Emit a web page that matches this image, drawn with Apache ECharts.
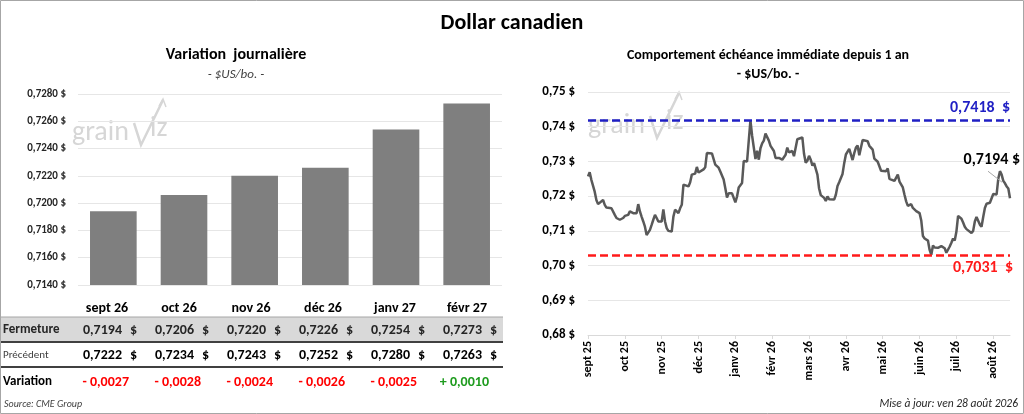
<!DOCTYPE html>
<html lang="fr">
<head>
  <meta charset="UTF-8">
  <title>Dollar canadien</title>
  <script src="https://cdn.jsdelivr.net/npm/echarts@6.0.0/dist/echarts.min.js"></script>
  <style>
    body { margin: 0; padding: 0; background: #fff; }
    #chart { width: 1024px; height: 414px; }
  </style>
</head>
<body>
  <div id="chart"></div>

  <script>
    // Contrats (graphique de gauche + tableau)
    var contracts = ['sept 26', 'oct 26', 'nov 26', 'déc 26', 'janv 27', 'févr 27'];
    var closeVals = [0.7194, 0.7206, 0.7220, 0.7226, 0.7254, 0.7273];
    var prevVals = [0.7222, 0.7234, 0.7243, 0.7252, 0.7280, 0.7263];
    var changeVals = [-0.0027, -0.0028, -0.0024, -0.0026, -0.0025, 0.0010];

    // Échéance immédiate depuis 1 an (jour de bourse, fermeture)
    var days = [0, 1, 2, 4, 5, 6, 7, 9, 10, 11, 12, 14, 15, 16, 17, 18, 19, 20, 21, 22,
      23, 24, 25, 26, 27, 29, 30, 31, 32, 33, 34, 35, 36, 37, 38, 39, 40, 41, 42, 43,
      44, 45, 46, 47, 48, 49, 50, 51, 52, 53, 54, 55, 56, 57, 58, 60, 61, 62, 63, 64,
      65, 66, 67, 69, 70, 71, 72, 74, 75, 76, 78, 79, 81, 82, 83, 84, 86, 87, 88, 89,
      90, 92, 93, 94, 95, 96, 97, 98, 99, 100, 101, 102, 103, 104, 105, 106, 107, 108, 109, 110,
      111, 112, 114, 115, 116, 118, 119, 120, 122, 123, 124, 125, 126, 128, 129, 130, 131, 132, 133, 134,
      135, 136, 137, 138, 139, 141, 142, 143, 144, 145, 147, 148, 149, 150, 151, 152, 153, 154, 156, 157,
      158, 159, 160, 161, 162, 163, 164, 165, 167, 168, 170, 171, 172, 173, 174, 175, 176, 178, 179, 180,
      181, 183, 184, 185, 186, 187, 188, 189, 190, 191, 192, 193, 194, 196, 197, 198, 199, 200, 201, 203,
      204, 205, 206, 207, 209, 210, 211, 213, 214, 215, 216, 217, 218, 219, 220, 221, 222, 223, 224, 225,
      226, 227, 229, 230, 231, 232, 233, 234, 235, 236, 237, 238, 239, 240, 241, 242, 243, 244, 245, 246,
      247, 248, 249, 250, 251, 252];
    var closes = [0.7257, 0.7269, 0.7247, 0.7213, 0.7189, 0.7177, 0.7180, 0.7189, 0.7175, 0.7167, 0.7170, 0.7165, 0.7170, 0.7146, 0.7137, 0.7137, 0.7132, 0.7127, 0.7137, 0.7143,
      0.7138, 0.7146, 0.7156, 0.7151, 0.7151, 0.7151, 0.7177, 0.7156, 0.7141, 0.7127, 0.7112, 0.7088, 0.7083, 0.7103, 0.7117, 0.7132, 0.7146, 0.7137, 0.7127, 0.7132,
      0.7127, 0.7162, 0.7127, 0.7108, 0.7100, 0.7096, 0.7098, 0.7141, 0.7161, 0.7156, 0.7151, 0.7165, 0.7175, 0.7233, 0.7228, 0.7228, 0.7240, 0.7262, 0.7262, 0.7265,
      0.7284, 0.7268, 0.7271, 0.7277, 0.7283, 0.7324, 0.7324, 0.7323, 0.7320, 0.7291, 0.7282, 0.7271, 0.7248, 0.7223, 0.7196, 0.7208, 0.7208, 0.7204, 0.7182, 0.7199,
      0.7225, 0.7238, 0.7301, 0.7302, 0.7300, 0.7360, 0.7418, 0.7374, 0.7340, 0.7307, 0.7331, 0.7305, 0.7338, 0.7352, 0.7360, 0.7380, 0.7384, 0.7360, 0.7345, 0.7343,
      0.7330, 0.7310, 0.7310, 0.7311, 0.7305, 0.7319, 0.7340, 0.7326, 0.7330, 0.7315, 0.7310, 0.7364, 0.7366, 0.7369, 0.7322, 0.7296, 0.7302, 0.7316, 0.7305, 0.7288,
      0.7295, 0.7297, 0.7262, 0.7222, 0.7203, 0.7195, 0.7186, 0.7199, 0.7191, 0.7190, 0.7190, 0.7204, 0.7229, 0.7240, 0.7244, 0.7264, 0.7295, 0.7320, 0.7336, 0.7340,
      0.7304, 0.7324, 0.7340, 0.7346, 0.7318, 0.7314, 0.7362, 0.7363, 0.7358, 0.7345, 0.7334, 0.7308, 0.7310, 0.7299, 0.7286, 0.7273, 0.7275, 0.7272, 0.7280, 0.7250,
      0.7247, 0.7244, 0.7245, 0.7262, 0.7242, 0.7240, 0.7225, 0.7204, 0.7185, 0.7172, 0.7175, 0.7177, 0.7166, 0.7157, 0.7152, 0.7151, 0.7130, 0.7085, 0.7078, 0.7072,
      0.7045, 0.7031, 0.7058, 0.7052, 0.7051, 0.7047, 0.7056, 0.7050, 0.7037, 0.7033, 0.7055, 0.7066, 0.7078, 0.7072, 0.7098, 0.7143, 0.7146, 0.7135, 0.7124, 0.7112,
      0.7105, 0.7104, 0.7094, 0.7100, 0.7127, 0.7140, 0.7135, 0.7118, 0.7112, 0.7140, 0.7166, 0.7178, 0.7182, 0.7181, 0.7178, 0.7206, 0.7208, 0.7205, 0.7250, 0.7272,
      0.7262, 0.7244, 0.7237, 0.7228, 0.7222, 0.7194];

    // Étiquettes de l'axe des dates (une tous les 22 jours de bourse)
    var monthDays = [0, 22, 44, 66, 88, 110, 132, 154, 176, 198, 220, 242];
    var monthLabels = ['sept 25', 'oct 25', 'nov 25', 'déc 25', 'janv 26', 'févr 26',
      'mars 26', 'avr 26', 'mai 26', 'juin 26', 'juil 26', 'août 26'];

    var yearHigh = 0.7418;
    var yearLow = 0.7031;

    var FONT = 'Carlito, Lato, "Open Sans", sans-serif';

    function fr(v, d) {
      return v.toFixed(d).replace('.', ',');
    }

    function txt(x, y, text, size, opts) {
      opts = opts || {};
      return {
        type: 'text', x: x, y: y, z: opts.z || 10,
        style: {
          text: text,
          fill: opts.color || '#000',
          font: (opts.style || 'normal') + ' ' + (opts.weight || 'bold') + ' ' + size + 'px ' + FONT,
          textAlign: opts.align || 'left', align: opts.align || 'left',
          textVerticalAlign: 'middle', verticalAlign: 'middle'
        }
      };
    }

    function hline(x1, x2, y, color, w) {
      return { type: 'line', z: 5, shape: { x1: x1, y1: y, x2: x2, y2: y }, style: { stroke: color, lineWidth: w } };
    }

    // logo grainviz en filigrane
    function watermark(x, y) {
      return {
        type: 'group', x: x, y: y, z: 0,
        children: [
          { type: 'text', x: 0, y: 0, style: { text: 'grain', fill: '#d6d6d6', font: 'normal 28px ' + FONT, textVerticalAlign: 'middle', verticalAlign: 'middle' } },
          { type: 'polyline', shape: { points: [[62, -10], [69, 12], [91, -33]] }, style: { stroke: '#d6d6d6', lineWidth: 2.5, fill: null } },
          { type: 'polyline', shape: { points: [[87, -27], [91, -34], [94, -26]] }, style: { stroke: '#d6d6d6', lineWidth: 1.5, fill: null } },
          { type: 'text', x: 78, y: -4, style: { text: 'iz', fill: '#d6d6d6', font: 'normal 28px ' + FONT, textVerticalAlign: 'middle', verticalAlign: 'middle' } }
        ]
      };
    }

    var chart = echarts.init(document.getElementById('chart'));

    // tableau sous le graphique à barres
    var colX0 = 107, colStep = 72;
    var graphics = [
      { type: 'rect', z: 1, shape: { x: 0.5, y: 0.5, width: 1023, height: 413 }, style: { fill: null, stroke: '#a6a6a6', lineWidth: 1 } },
      txt(512, 23, 'Dollar canadien', 22, { align: 'center' }),
      txt(236, 55, 'Variation  journalière', 16, { align: 'center' }),
      txt(236, 75, '- $US/bo. -', 13, { style: 'italic', weight: 'normal', color: '#404040', align: 'center' }),
      txt(768, 55, 'Comportement échéance immédiate depuis 1 an', 14, { align: 'center' }),
      txt(768, 74, '- $US/bo. -', 14, { align: 'center' }),
      { type: 'rect', z: 1, shape: { x: 1, y: 317, width: 502, height: 24 }, style: { fill: '#d9d9d9' } },
      hline(1, 503, 317, '#a6a6a6', 1),
      hline(1, 503, 342, '#404040', 2),
      hline(1, 503, 367, '#404040', 2),
      txt(3, 330, 'Fermeture', 13, { color: '#262626' }),
      txt(3, 355, 'Précédent', 11, { weight: 'normal', color: '#404040' }),
      txt(3, 382, 'Variation', 13),
      txt(4, 404, 'Source: CME Group', 10, { style: 'italic', weight: 'normal', color: '#404040' }),
      txt(1018, 404, 'Mise à jour: ven 28 août 2026', 11.5, { style: 'italic', weight: 'normal', color: '#262626', align: 'right' }),
      watermark(72, 133),
      watermark(588, 126)
    ];
    contracts.forEach(function (c, i) {
      var cx = colX0 + colStep * i;
      graphics.push(txt(cx, 308, c, 14, { align: 'center' }));
      graphics.push(txt(cx + 15, 330, fr(closeVals[i], 4), 14, { align: 'right', color: '#262626' }));
      graphics.push(txt(cx + 30, 330, '$', 14, { align: 'right', color: '#262626' }));
      graphics.push(txt(cx + 15, 355, fr(prevVals[i], 4), 14, { align: 'right' }));
      graphics.push(txt(cx + 30, 355, '$', 14, { align: 'right' }));
      var ch = changeVals[i];
      graphics.push(txt(cx + 22, 382, (ch < 0 ? '- ' : '+ ') + fr(Math.abs(ch), 4), 14,
        { align: 'right', color: ch < 0 ? '#ff0000' : '#1e9b1e' }));
    });

    var option = {
      animation: false,
      graphic: { elements: graphics },
      grid: [
        { left: 78, right: 522, top: 94, bottom: 129, outerBoundsMode: 'none' },
        { left: 588, right: 14, top: 92, bottom: 79, outerBoundsMode: 'none' }
      ],
      xAxis: [
        {
          type: 'category', gridIndex: 0, data: contracts,
          axisLine: { show: false }, axisTick: { show: false }, axisLabel: { show: false }
        },
        {
          type: 'value', gridIndex: 1, min: 0, max: 252, interval: 22,
          axisLine: { lineStyle: { color: '#d9d9d9', width: 1 } },
          axisTick: { show: true, length: 4, lineStyle: { color: '#d9d9d9' }, customValues: monthDays },
          splitLine: { show: false },
          axisLabel: {
            rotate: 90, margin: 6, color: '#000', fontWeight: 'bold', fontSize: 12, fontFamily: FONT,
            customValues: monthDays,
            formatter: function (v) {
              var k = monthDays.indexOf(v);
              return k >= 0 ? monthLabels[k] : '';
            }
          }
        }
      ],
      yAxis: [
        {
          type: 'value', gridIndex: 0, min: 0.714, max: 0.728, interval: 0.002,
          axisLine: { show: false }, axisTick: { show: false },
          splitLine: { lineStyle: { color: '#e6e6e6', width: 1 } },
          axisLabel: {
            margin: 12, color: '#262626', fontWeight: 'bold', fontSize: 11, fontFamily: FONT,
            formatter: function (v) { return fr(v, 4) + ' $'; }
          }
        },
        {
          type: 'value', gridIndex: 1, min: 0.68, max: 0.75, interval: 0.01,
          axisLine: { show: false }, axisTick: { show: false },
          splitLine: { lineStyle: { color: '#e6e6e6', width: 1 } },
          axisLabel: {
            margin: 13, color: '#000', fontWeight: 'bold', fontSize: 13, fontFamily: FONT,
            formatter: function (v) { return fr(v, 2) + ' $'; }
          }
        }
      ],
      series: [
        {
          type: 'bar', xAxisIndex: 0, yAxisIndex: 0, data: closeVals,
          barWidth: '66%', itemStyle: { color: '#7f7f7f' }, z: 3
        },
        {
          type: 'line', xAxisIndex: 1, yAxisIndex: 1,
          data: days.map(function (d, i) { return [d, closes[i]]; }),
          showSymbol: false, symbol: 'none',
          lineStyle: { color: '#595959', width: 2.5 }, z: 3,
          markLine: {
            silent: true, symbol: 'none', precision: 4,
            data: [
              {
                yAxis: yearHigh,
                lineStyle: { color: '#1f1fc4', type: [8, 4], width: 2.5 },
                label: { position: 'insideEndTop', distance: [0, 4], formatter: fr(yearHigh, 4) + '  $', color: '#1f1fc4', fontWeight: 'bold', fontSize: 16, fontFamily: FONT }
              },
              {
                yAxis: yearLow,
                lineStyle: { color: '#ff1a1a', type: [8, 4], width: 2.5 },
                label: { position: 'insideEndBottom', distance: [-3, 5], formatter: fr(yearLow, 4) + '  $', color: '#ff1a1a', fontWeight: 'bold', fontSize: 16, fontFamily: FONT }
              }
            ]
          }
        }
      ]
    };

    chart.setOption(option);

    // étiquette de la dernière fermeture avec trait de rappel
    var lastPt = chart.convertToPixel({ gridIndex: 1 }, [days[days.length - 1], closes[closes.length - 1]]);
    chart.setOption({
      graphic: {
        elements: [
          Object.assign(txt(lastPt[0] + 10, lastPt[1] - 38, fr(closes[closes.length - 1], 4) + ' $', 16, { align: 'right' }), { id: 'lastLbl' }),
          { id: 'lastLead', type: 'line', z: 4, shape: { x1: lastPt[0] - 22, y1: lastPt[1] - 27, x2: lastPt[0] - 8, y2: lastPt[1] - 16 }, style: { stroke: '#a6a6a6', lineWidth: 1 } }
        ]
      }
    });
  </script>
</body>
</html>
